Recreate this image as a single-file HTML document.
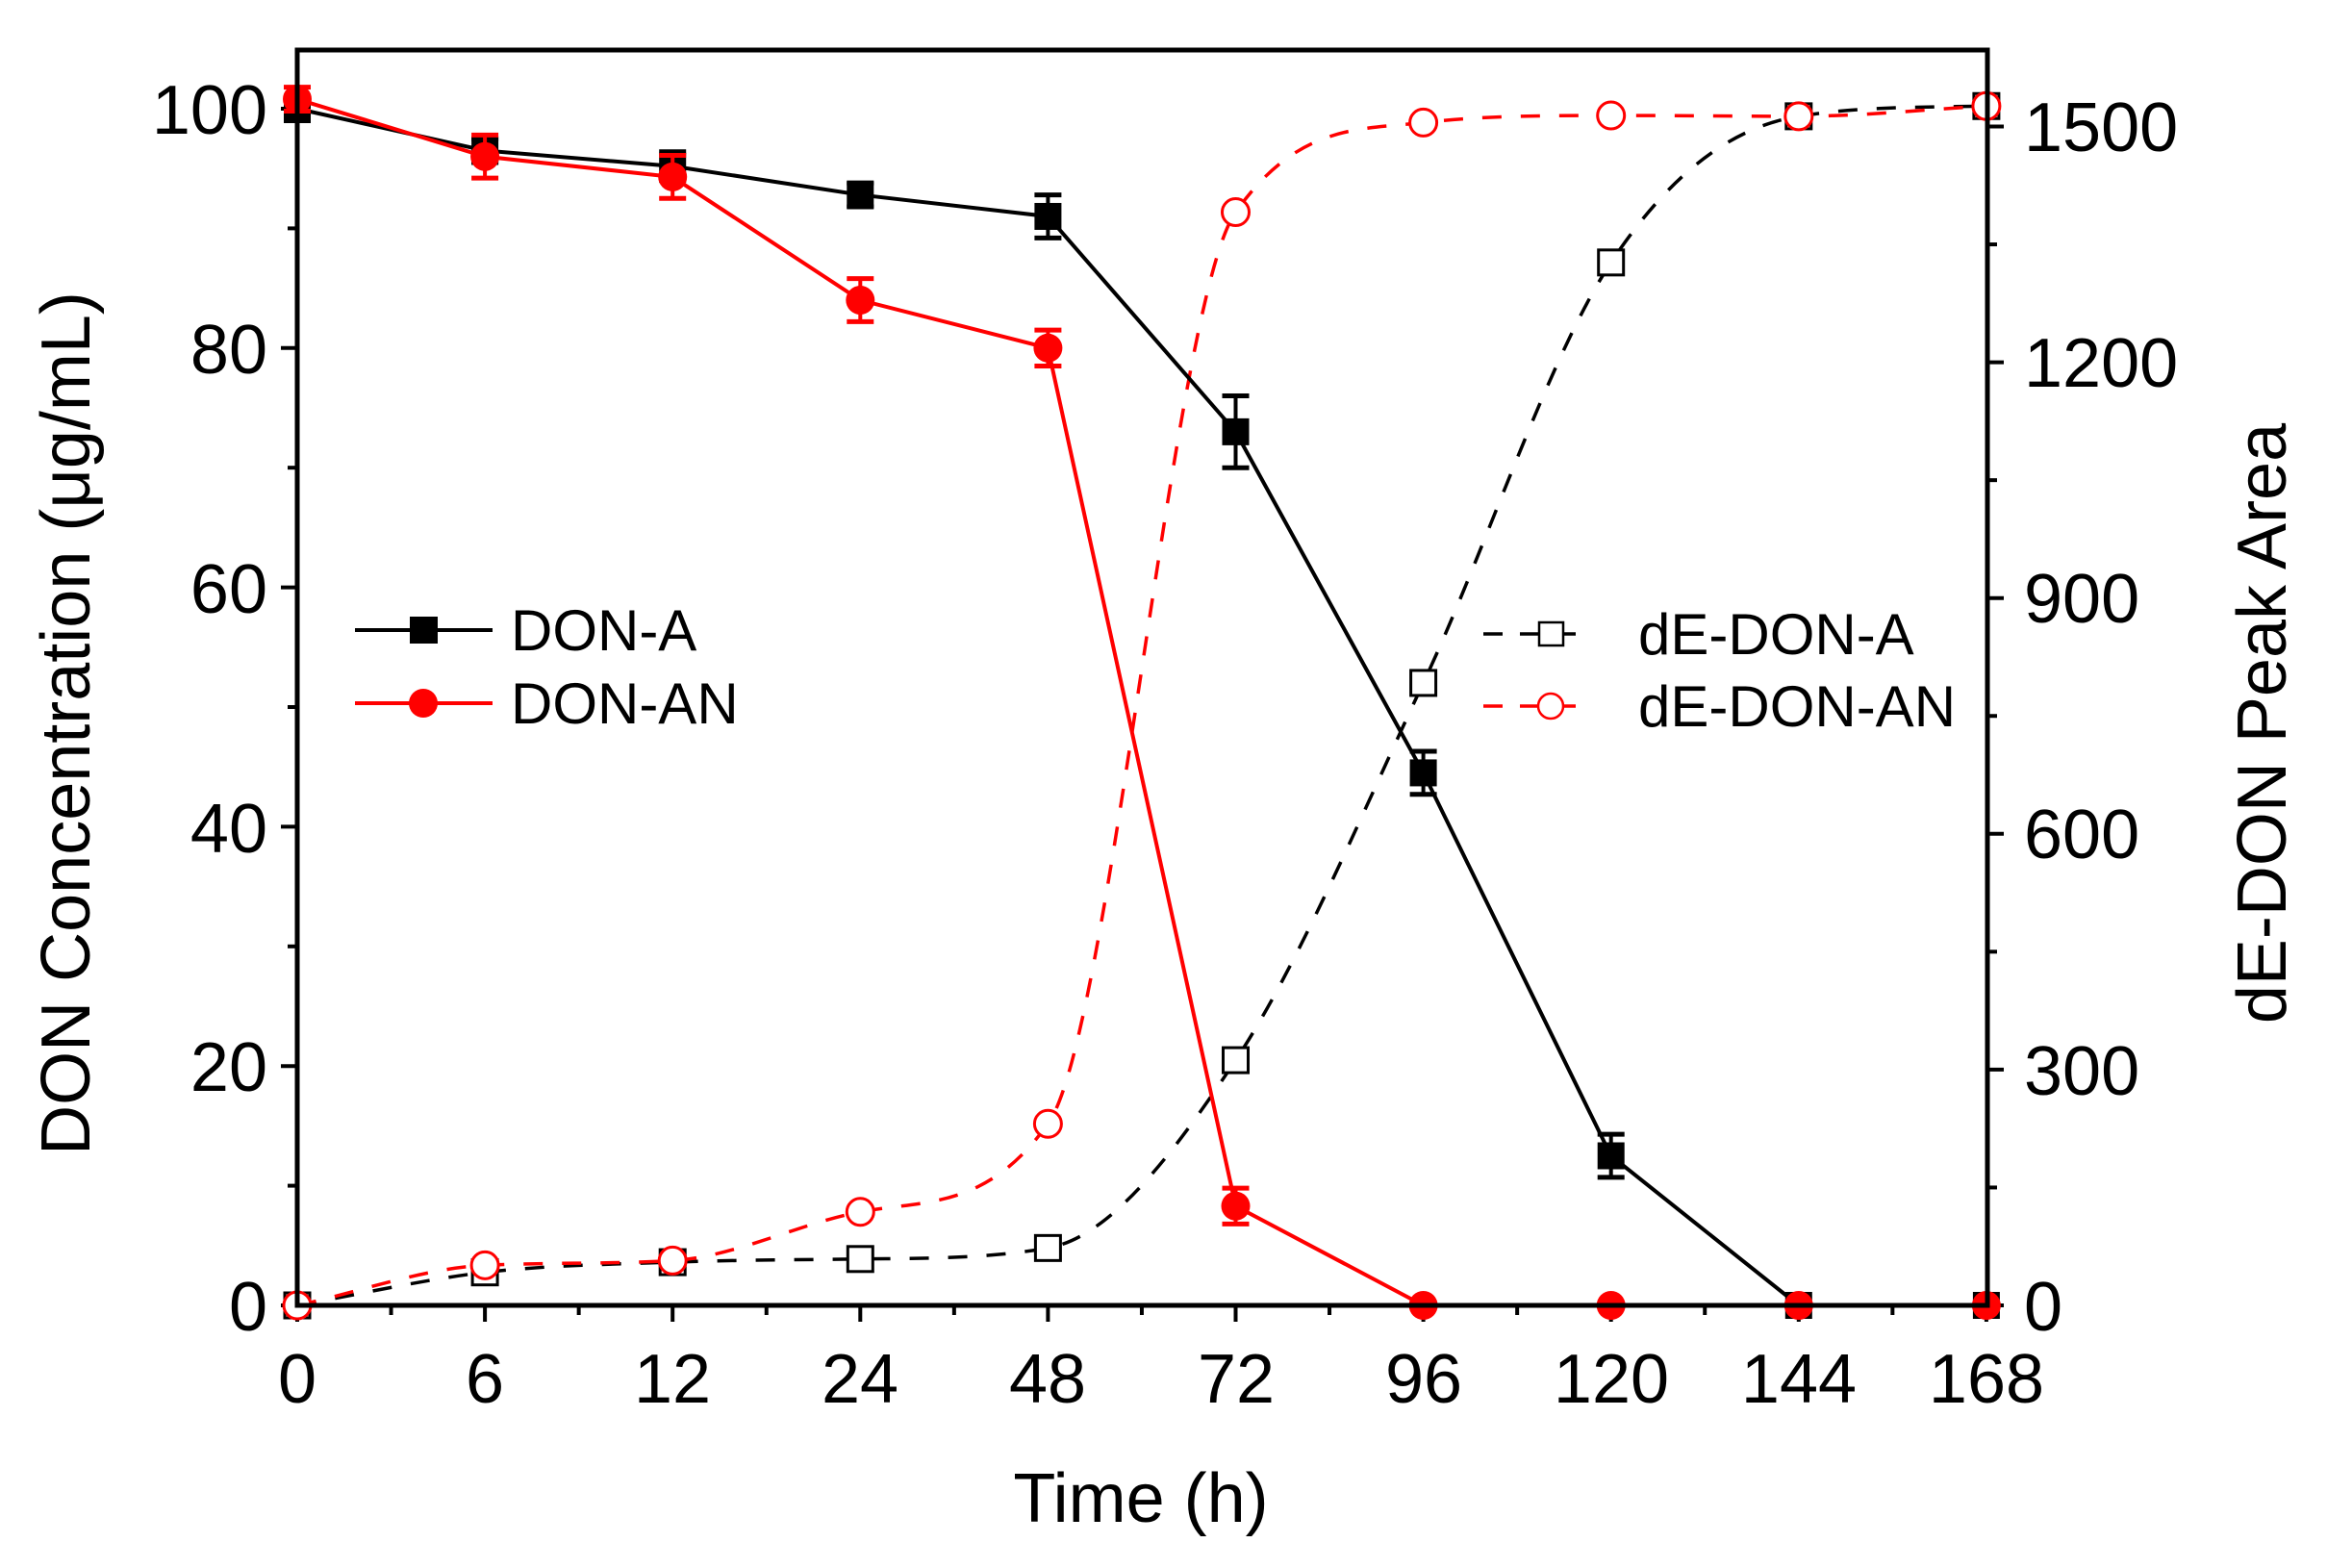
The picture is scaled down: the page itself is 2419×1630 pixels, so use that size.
<!DOCTYPE html>
<html><head><meta charset="utf-8"><style>
html,body{margin:0;padding:0;background:#fff;}
svg{display:block;}
text{font-family:"Liberation Sans",Arial,sans-serif;fill:#000;}
</style></head><body>
<svg id="s" width="2419" height="1630" viewBox="0 0 2419 1630" xmlns="http://www.w3.org/2000/svg">
<rect width="2419" height="1630" fill="#fff"/>
<g id="plot"></g>
<rect x="309" y="52" width="1757" height="1305" fill="none" stroke="#000" stroke-width="5"/>
<g font-size="72" text-anchor="end">
<text x="278" y="139">100</text>
<text x="278" y="388">80</text>
<text x="278" y="637">60</text>
<text x="278" y="886">40</text>
<text x="278" y="1134">20</text>
<text x="278" y="1383">0</text>
</g>
<g font-size="72" text-anchor="start">
<text x="2104" y="157">1500</text>
<text x="2104" y="402">1200</text>
<text x="2104" y="647">900</text>
<text x="2104" y="892">600</text>
<text x="2104" y="1138">300</text>
<text x="2104" y="1383">0</text>
</g>
<g font-size="72" text-anchor="middle">
<text x="309" y="1458">0</text>
<text x="504" y="1458">6</text>
<text x="699" y="1458">12</text>
<text x="894" y="1458">24</text>
<text x="1089" y="1458">48</text>
<text x="1285" y="1458">72</text>
<text x="1480" y="1458">96</text>
<text x="1675" y="1458">120</text>
<text x="1870" y="1458">144</text>
<text x="2065" y="1458">168</text>
</g>
<text x="1186" y="1582" font-size="72" text-anchor="middle">Time (h)</text>
<text transform="translate(93,752) rotate(-90)" font-size="72" text-anchor="middle">DON Concentration (μg/mL)</text>
<text transform="translate(2376,752) rotate(-90)" font-size="72" text-anchor="middle">dE-DON Peak Area</text>
<line x1="369" y1="655" x2="512" y2="655" stroke="#000" stroke-width="4"/>
<rect x="426" y="641" width="29" height="28" fill="#000"/>
<text x="531" y="676" font-size="60">DON-A</text>
<line x1="369" y1="731" x2="512" y2="731" stroke="#f00" stroke-width="4"/>
<circle cx="440" cy="731" r="15" fill="#f00"/>
<text x="531" y="752" font-size="60">DON-AN</text>
<line x1="1542" y1="659" x2="1656" y2="659" stroke="#000" stroke-width="3.5" stroke-dasharray="20,18"/>
<rect x="1600" y="647" width="25" height="24" fill="#fff" stroke="#000" stroke-width="2.5"/>
<text x="1703" y="680" font-size="60">dE-DON-A</text>
<line x1="1542" y1="734" x2="1656" y2="734" stroke="#f00" stroke-width="3.5" stroke-dasharray="20,18"/>
<circle cx="1612" cy="734" r="13" fill="#fff" stroke="#f00" stroke-width="2.5"/>
<text x="1703" y="755" font-size="60">dE-DON-AN</text>
</svg>
<script>
(function(){
var g=document.getElementById('plot'),NS='http://www.w3.org/2000/svg';
function el(n,a){var e=document.createElementNS(NS,n);for(var k in a)e.setAttribute(k,a[k]);g.appendChild(e);return e;}
var X0=309,DX=195.1,Y0=1357,KL=12.44,KR=0.817;
function xp(i){return X0+i*DX;}
function yl(v){return Y0-KL*v;}
function yr(v){return Y0-KR*v;}
for(var i=0;i<10;i++){el('line',{x1:xp(i),y1:Y0,x2:xp(i),y2:Y0+17,stroke:'#000','stroke-width':4});
 if(i<9)el('line',{x1:xp(i+0.5),y1:Y0,x2:xp(i+0.5),y2:Y0+10,stroke:'#000','stroke-width':4});}
for(var v=0;v<=100;v+=10){var big=v%20==0;el('line',{x1:X0,y1:yl(v),x2:X0-(big?17:10),y2:yl(v),stroke:'#000','stroke-width':4});}
for(var v=0;v<=1500;v+=150){var big=v%300==0;el('line',{x1:2066,y1:yr(v),x2:2066+(big?17:10),y2:yr(v),stroke:'#000','stroke-width':4});}
function pts(d,f){return d.map(function(v,i){return [xp(i),f(v)];});}
// monotone cubic (Fritsch-Carlson)
function mono(p){var n=p.length,d=[],m=[];
 for(var i=0;i<n-1;i++)d.push((p[i+1][1]-p[i][1])/(p[i+1][0]-p[i][0]));
 m[0]=d[0];m[n-1]=d[n-2];
 for(var i=1;i<n-1;i++){ if(d[i-1]*d[i]<=0)m[i]=0; else m[i]=(d[i-1]+d[i])/2; }
 for(var i=0;i<n-1;i++){ if(d[i]==0){m[i]=0;m[i+1]=0;continue;}
  var a=m[i]/d[i],b=m[i+1]/d[i],s=a*a+b*b; if(s>9){var t=3/Math.sqrt(s);m[i]=t*a*d[i];m[i+1]=t*b*d[i];}}
 var s='M'+p[0][0]+','+p[0][1];
 for(var i=0;i<n-1;i++){var h=(p[i+1][0]-p[i][0])/3;
  s+=' C'+(p[i][0]+h)+','+(p[i][1]+m[i]*h)+' '+(p[i+1][0]-h)+','+(p[i+1][1]-m[i+1]*h)+' '+p[i+1][0]+','+p[i+1][1];}
 return s;}
var dA=[0,42,55,59,73,312,792,1327,1513,1526];
var dAN=[0,51,57,119,231,1391,1505,1514,1513,1526];
var A=[100,96.5,95.2,92.8,91,73,44.5,12.5,0,0],Ae=[1,1,1.2,1,1.8,3,1.8,1.8,0,0];
var AN=[100.8,96,94.3,84,80,8.3,0,0,0,0],ANe=[1,1.8,1.8,1.8,1.5,1.5,0,0,0,0];
var pa=pts(dA,yr),pn=pts(dAN,yr);
el('path',{d:mono(pa),fill:'none',stroke:'#000','stroke-width':3.5,'stroke-dasharray':'20,20'});
el('path',{d:mono(pn),fill:'none',stroke:'#f00','stroke-width':3.5,'stroke-dasharray':'20,20'});
pa.forEach(function(p){el('rect',{x:p[0]-13,y:p[1]-13,width:26,height:26,fill:'#fff',stroke:'#000','stroke-width':3});});
pn.forEach(function(p){el('circle',{cx:p[0],cy:p[1],r:14,fill:'#fff',stroke:'#f00','stroke-width':3});});
function solid(d,e,col,mk){var p=pts(d,yl);
 el('polyline',{points:p.map(function(q){return q.join(',')}).join(' '),fill:'none',stroke:col,'stroke-width':4});
 p.forEach(function(q,i){var h=e[i]*KL;if(h>0){el('line',{x1:q[0],y1:q[1]-h,x2:q[0],y2:q[1]+h,stroke:col,'stroke-width':4});
  el('line',{x1:q[0]-14,y1:q[1]-h,x2:q[0]+14,y2:q[1]-h,stroke:col,'stroke-width':5});
  el('line',{x1:q[0]-14,y1:q[1]+h,x2:q[0]+14,y2:q[1]+h,stroke:col,'stroke-width':5});}
  if(mk=='s')el('rect',{x:q[0]-14,y:q[1]-14,width:28,height:28,fill:col});else el('circle',{cx:q[0],cy:q[1],r:15,fill:col});});}
solid(A,Ae,'#000','s');solid(AN,ANe,'#f00','c');
})();
</script>
</body></html>
